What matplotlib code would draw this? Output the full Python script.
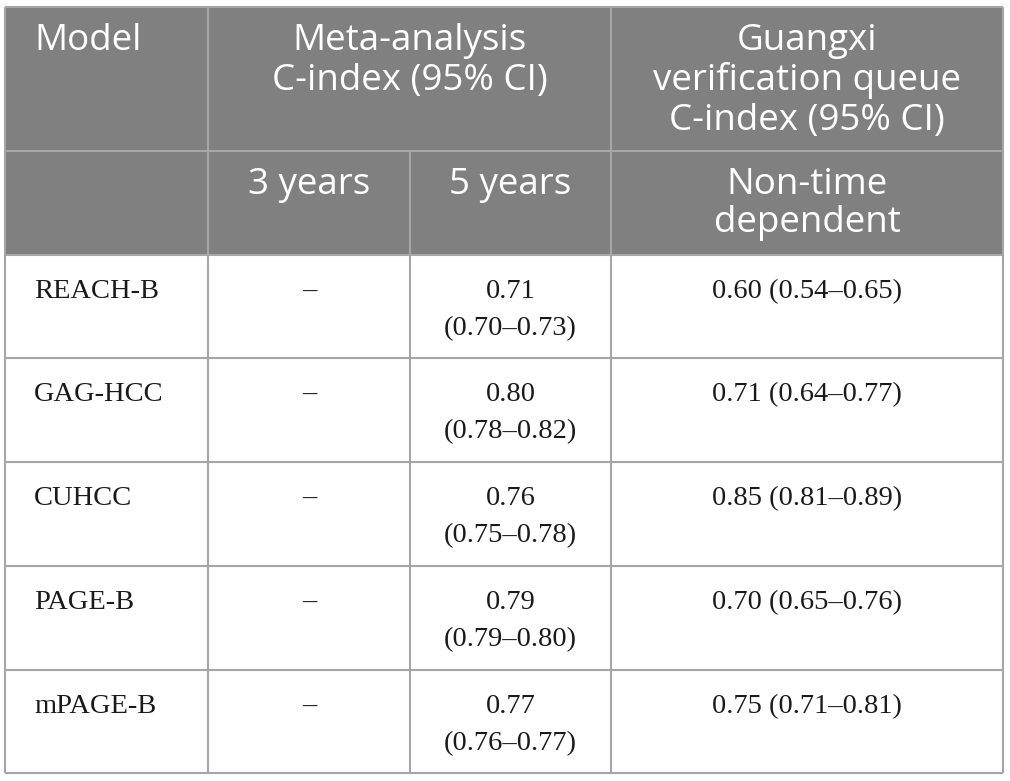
import matplotlib.pyplot as plt
from matplotlib.patches import Rectangle

# table content
models = ["REACH-B", "GAG-HCC", "CUHCC", "PAGE-B", "mPAGE-B"]
three_years = ["–", "–", "–", "–", "–"]
five_years_c = ["0.71", "0.80", "0.76", "0.79", "0.77"]
five_years_ci = ["(0.70–0.73)", "(0.78–0.82)", "(0.75–0.78)", "(0.79–0.80)", "(0.76–0.77)"]
guangxi = ["0.60 (0.54–0.65)", "0.71 (0.64–0.77)", "0.85 (0.81–0.89)",
           "0.70 (0.65–0.76)", "0.75 (0.71–0.81)"]

header_top = ["Model", "Meta-analysis\nC-index (95% CI)",
              "Guangxi\nverification queue\nC-index (95% CI)"]
header_sub = ["", "3 years", "5 years", "Non-time\ndependent"]

# grid in pixels
col_x = [5, 208, 410, 611, 1003]
row_y = [7, 151, 255, 358, 462, 566, 670, 773]

head_bg = "#808080"
line_c = "#a6a6a6"
lw = 1.5

fig = plt.figure(figsize=(10.1, 7.81), dpi=100)
ax = fig.add_axes([0, 0, 1, 1])
ax.set_xlim(0, 1010)
ax.set_ylim(781, 0)
ax.axis("off")

ax.add_patch(Rectangle((col_x[0], row_y[0]), col_x[-1] - col_x[0],
                       row_y[2] - row_y[0], facecolor=head_bg, edgecolor="none"))

# horizontal lines
for y in row_y:
    ax.plot([col_x[0], col_x[-1]], [y, y], color=line_c, lw=lw, solid_capstyle="butt")
# vertical lines
for i, x in enumerate(col_x):
    top = row_y[1] if i == 2 else row_y[0]
    ax.plot([x, x], [top, row_y[-1]], color=line_c, lw=lw, solid_capstyle="butt")

hfont = dict(family="Open Sans", fontsize=26.5, color="white")
bfont = dict(family="Liberation Serif", fontsize=20.5, color="#1a1a1a")


def put_lines(x, y0, text, lh, ha, style):
    for k, line in enumerate(text.split("\n")):
        ax.text(x, y0 + k * lh, line, ha=ha, va="baseline", **style)


# header row 1
put_lines(34, row_y[0] + 43, header_top[0], 40, "left", hfont)
put_lines((col_x[1] + col_x[3]) / 2, row_y[0] + 43, header_top[1], 40, "center", hfont)
put_lines((col_x[3] + col_x[4]) / 2, row_y[0] + 43, header_top[2], 40, "center", hfont)

# header row 2
for j in range(1, 4):
    put_lines((col_x[j] + col_x[j + 1]) / 2, row_y[1] + 43, header_sub[j], 38,
              "center", hfont)

# body
for i, m in enumerate(models):
    y0 = row_y[i + 2] + 43
    put_lines(34, y0, m, 37, "left", bfont)
    put_lines((col_x[1] + col_x[2]) / 2, y0, three_years[i], 37, "center", bfont)
    put_lines((col_x[2] + col_x[3]) / 2, y0, five_years_c[i] + "\n" + five_years_ci[i],
              37, "center", bfont)
    put_lines((col_x[3] + col_x[4]) / 2, y0, guangxi[i], 37, "center", bfont)

fig.savefig("out.png", dpi=100, facecolor="white")
